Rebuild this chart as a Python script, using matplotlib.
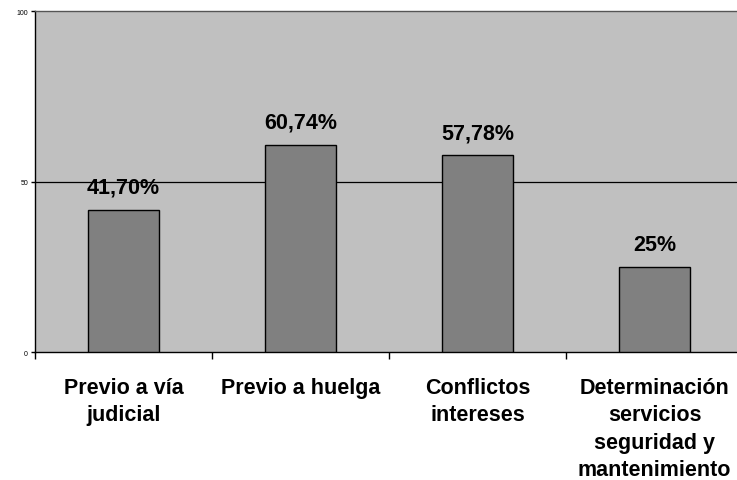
import matplotlib
matplotlib.use("Agg")
import matplotlib.pyplot as plt
import numpy as np

# Chart data
categories = [
    "Previo a vía\njudicial",
    "Previo a huelga",
    "Conflictos\nintereses",
    "Determinación\nservicios\nseguridad y\nmantenimiento",
]
values = [41.70, 60.74, 57.78, 25]
value_labels = ["41,70%", "60,74%", "57,78%", "25%"]
y_ticks = [0, 50, 100]

plt.rcParams["font.family"] = ["Liberation Sans", "DejaVu Sans"]

fig = plt.figure(figsize=(7.37, 4.81), dpi=100)
# axes runs a little past the right edge of the image
ax = fig.add_axes([35 / 737, 0.266, 708 / 737, 0.709])
ax.set_facecolor("#c0c0c0")

x = np.arange(len(categories))
ax.bar(x, values, width=0.4, color="#808080", edgecolor="black", linewidth=1, zorder=3)

for xi, v, lab in zip(x, values, value_labels):
    ax.text(xi, v + 3.5, lab, ha="center", va="bottom", fontsize=15.5, fontweight="bold")

ax.set_xlim(-0.5, len(categories) - 0.5)
ax.set_ylim(0, 100)
ax.axhline(50, color="black", linewidth=0.9, zorder=2)

ax.set_yticks(y_ticks)
ax.set_yticklabels([str(t) for t in y_ticks], fontsize=5)
ax.tick_params(axis="y", length=3, width=1, pad=2)

# category ticks between groups, labels at centers
ax.set_xticks(np.arange(-0.5, len(categories), 1.0))
ax.set_xticklabels([])
ax.set_xticks(x, minor=True)
ax.set_xticklabels(categories, minor=True, fontsize=15.5, fontweight="bold",
                   linespacing=1.4)
ax.tick_params(axis="x", which="major", length=5, width=1, direction="out")
ax.tick_params(axis="x", which="minor", length=0, pad=18)

for side in ["left", "bottom", "top"]:
    ax.spines[side].set_color("black")
    ax.spines[side].set_linewidth(1)
ax.spines["top"].set_color("#555555")
ax.spines["right"].set_visible(False)

fig.savefig("out.png", dpi=100)
